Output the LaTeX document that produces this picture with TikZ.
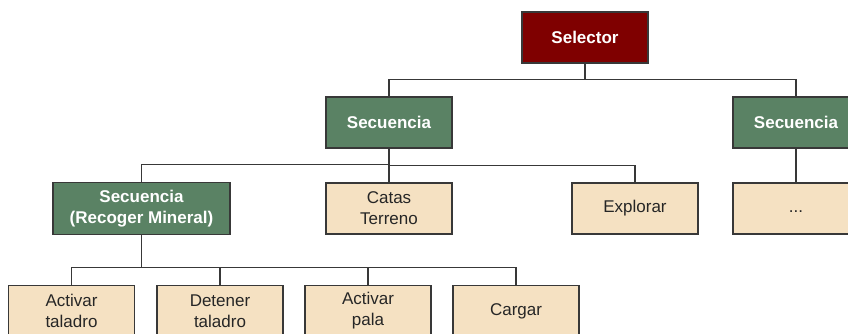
\documentclass[tikz,border=0pt]{standalone}
\usepackage{fontspec}
\setmainfont{Liberation Sans}
\usepackage{xcolor}
\usepackage{tikz}

\definecolor{selred}{HTML}{7F0000}
\definecolor{seqgreen}{HTML}{5A8264}
\definecolor{leafbeige}{HTML}{F5E1C2}
\definecolor{boxline}{HTML}{383838}

\tikzset{
    box/.style={draw=boxline, line width=1.6pt, minimum width=126pt, minimum height=51pt,
        inner sep=0pt, align=center, font=\fontsize{17}{21}\selectfont},
    selbox/.style={box, fill=selred, text=white, font=\fontsize{17}{21}\selectfont\bfseries},
    seqbox/.style={box, fill=seqgreen, text=white, font=\fontsize{17}{21}\selectfont\bfseries},
    leafbox/.style={box, fill=leafbeige, text=black!85},
    bus/.style={to path={(\tikztostart.south) |- ([yshift=17pt]\tikztotarget.north) -- (\tikztotarget.north)}}
}

\begin{document}
\begin{tikzpicture}[x=1pt, y=-1pt]
    \useasboundingbox (0,0) rectangle (848,334);

    % Root
    \node[selbox] (sel) at (585,37.5) {Selector};

    % Level 1 - sequences
    \node[seqbox] (seqA) at (389,122.5) {Secuencia};
    \node[seqbox] (seqB) at (796,122.5) {Secuencia};

    % Level 2
    \node[seqbox, minimum width=177pt, minimum height=52pt] (rec) at (141.5,208.5) {Secuencia\\(Recoger Mineral)};
    \node[leafbox] (catas) at (389,208.5) {Catas\\Terreno};
    \node[leafbox] (expl) at (635,208.5) {Explorar};
    \node[leafbox] (more) at (796,208.5) {\vphantom{Ag}...};

    % Level 3 - actions
    \node[leafbox] (drillon) at (71.5,311) {Activar\\taladro};
    \node[leafbox] (drilloff) at (220,311) {Detener\\taladro};
    \node[leafbox] (shovel) at (368,311) {Activar\\pala};
    \node[leafbox] (load) at (516,311) {Cargar};

    % Connectors
    \draw[line width=1.3pt, boxline] (sel) edge[bus] (seqA) edge[bus] (seqB);
    \draw[line width=1.3pt, boxline] (seqA) edge[bus] (rec) edge[bus] (catas) edge[bus] (expl);
    \draw[line width=1.3pt, boxline] (seqB) edge[bus] (more);
    \draw[line width=1.3pt, boxline] (rec) edge[bus] (drillon) edge[bus] (drilloff) edge[bus] (shovel) edge[bus] (load);
\end{tikzpicture}
\end{document}
